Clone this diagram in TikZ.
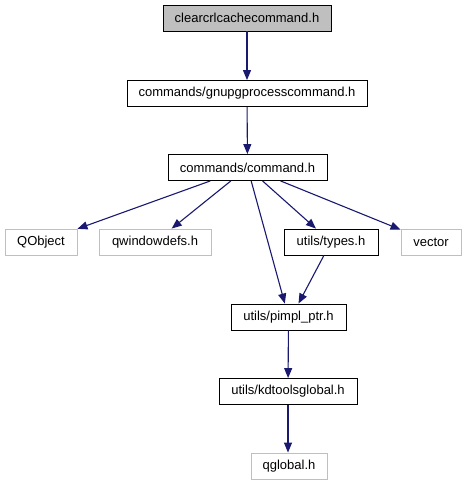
\documentclass[tikz,border=0pt]{standalone}
\usepackage{fontspec}
\setmainfont{Liberation Sans}
\usepackage{xcolor}
\usepackage{tikz}
\usetikzlibrary{arrows.meta, calc}
\definecolor{edgeblue}{HTML}{191970}
\definecolor{extgray}{HTML}{BFBFBF}
\tikzset{
  header/.style={
    draw=black,
    line width=0.9pt,
    fill=white,
    minimum height=26pt,
    inner sep=0pt,
    font=\fontsize{13}{15}\selectfont
  },
  current/.style={header, fill=extgray},
  external/.style={header, draw=extgray},
  incl/.style={
    -{Triangle[length=10pt,width=8pt]},
    line width=1.1pt,
    color=edgeblue
  }
}
\begin{document}
\begin{tikzpicture}[x=1pt,y=-1pt]
  \useasboundingbox (0,0) rectangle (466,485);

  % Top file
  \node[current, minimum width=168pt] (root) at (247,18) {clearcrlcachecommand.h};

  % Commands
  \node[header, minimum width=240pt] (gnupg) at (247,93.5) {commands/gnupgprocesscommand.h};
  \node[header, minimum width=159pt] (command) at (247.5,167.5) {commands/command.h};

  % Third row
  \node[external, minimum width=72pt] (qobject) at (41,242) {QObject};
  \node[external, minimum width=112pt] (qwindowdefs) at (155,242) {qwindowdefs.h};
  \node[header, minimum width=94pt] (types) at (331,242) {utils/types.h};
  \node[external, minimum width=60pt] (vector) at (431,242) {vector};

  % Utils
  \node[header, minimum width=115pt] (pimpl) at (288.5,317) {utils/pimpl\_ptr.h};
  \node[header, minimum width=138pt] (kdtools) at (288,391.5) {utils/kdtoolsglobal.h};
  \node[external, minimum width=76pt] (qglobal) at (289,466) {qglobal.h};

  % Includes
  \draw[incl] (root) -- (gnupg);
  \draw[incl] (gnupg) -- (command);
  \draw[incl] (command) -- (qobject);
  \draw[incl] (command) -- (qwindowdefs);
  \draw[incl] (command) -- (types);
  \draw[incl] (command) -- (vector);
  \draw[incl] (command) -- (pimpl);
  \draw[incl] (types) -- ($(pimpl.north)+(10,0)$);
  \draw[incl] (pimpl) -- (kdtools);
  \draw[incl] (kdtools.south) -- (qglobal.north-|kdtools.south);
\end{tikzpicture}
\end{document}
